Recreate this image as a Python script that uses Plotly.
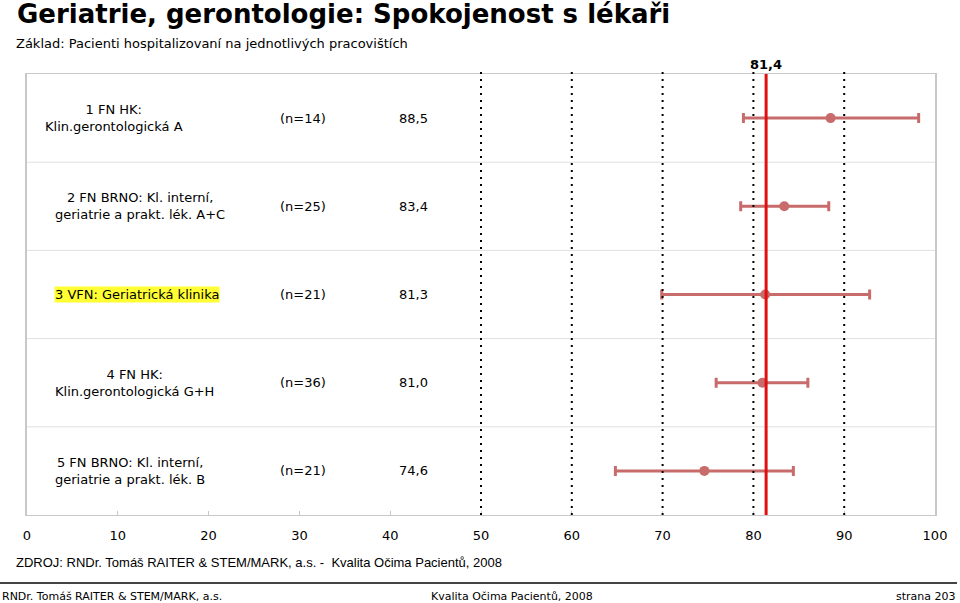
import plotly.graph_objects as go

# ---- data ----
row_labels = [
    "1 FN HK:<br>Klin.gerontologická A",
    "2 FN BRNO: Kl. interní,<br>geriatrie a prakt. lék. A+C",
    "3 VFN: Geriatrická klinika",
    "4 FN HK:<br>Klin.gerontologická G+H",
    "5 FN BRNO: Kl. interní,<br>geriatrie a prakt. lék. B",
]
n_counts = [14, 25, 21, 36, 21]
means = [88.5, 83.4, 81.3, 81.0, 74.6]
ci_low = [78.9, 78.6, 69.9, 75.9, 64.8]
ci_high = [98.2, 88.3, 92.8, 86.0, 84.4]
overall_mean = 81.4
x_ticks = [0, 10, 20, 30, 40, 50, 60, 70, 80, 90, 100]
ref_lines = [50, 60, 70, 80, 90]
highlight_row = 2

# ---- layout geometry ----
W, H = 960, 603
L, R, T, B = 27, 935, 74, 515


def px(xp):
    return (xp - L) / (R - L)


def py(yp):
    return (B - yp) / (B - T)


def fmt(v):
    return f"{v:.1f}".replace(".", ",")


rows = list(range(len(means)))
err_plus = [h - m for h, m in zip(ci_high, means)]
err_minus = [m - l for m, l in zip(means, ci_low)]

fig = go.Figure()
fig.add_trace(go.Scatter(
    x=means, y=rows, mode="markers",
    marker=dict(color="#C86B6B", size=10),
    error_x=dict(type="data", symmetric=False, array=err_plus, arrayminus=err_minus,
                 color="#C86B6B", thickness=3, width=5),
    hoverinfo="skip", showlegend=False,
))

shapes = []
# row separators
for i in rows[:-1]:
    shapes.append(dict(type="line", xref="paper", yref="y", x0=0, x1=1, y0=i + 0.5, y1=i + 0.5,
                       line=dict(color="#E0E0E0", width=1), layer="below"))
# dotted reference lines
for v in ref_lines:
    shapes.append(dict(type="line", xref="x", yref="paper", x0=v, x1=v, y0=0, y1=py(72),
                       line=dict(color="black", width=2, dash="2px,5px"), layer="above"))
# overall mean line
shapes.append(dict(type="line", xref="x", yref="paper", x0=overall_mean, x1=overall_mean,
                   y0=0, y1=1, line=dict(color="#E01010", width=3), layer="above"))
# footer rule
shapes.append(dict(type="line", xref="paper", yref="paper", x0=px(0), x1=px(957),
                   y0=py(583), y1=py(583), line=dict(color="#444444", width=2)))

label_font = dict(family="DejaVu Sans, Verdana", size=13, color="black")
label_x = [114, 140, 137, 134, 130]

ann = []
for i in rows:
    a = dict(xref="paper", yref="y", x=px(label_x[i]), y=i, text=row_labels[i],
             showarrow=False, align="center", xanchor="center", yanchor="middle",
             font=label_font)
    if i == highlight_row:
        a.update(bgcolor="#FFFF33", borderpad=0)
    ann.append(a)
    ann.append(dict(xref="paper", yref="y", x=px(303), y=i, text=f"(n={n_counts[i]})",
                    showarrow=False, xanchor="center", yanchor="middle", font=label_font))
    ann.append(dict(xref="paper", yref="y", x=px(413), y=i, text=fmt(means[i]),
                    showarrow=False, xanchor="center", yanchor="middle", font=label_font))

ann.append(dict(xref="x", yref="paper", x=overall_mean, y=py(65), text=f"<b>{fmt(overall_mean)}</b>",
                showarrow=False, xanchor="center", yanchor="middle",
                font=dict(family="DejaVu Sans, Verdana", size=13, color="black")))
ann.append(dict(xref="paper", yref="paper", x=px(15), y=py(14),
                text="<b>Geriatrie, gerontologie: Spokojenost s lékaři</b>",
                showarrow=False, xanchor="left", yanchor="middle",
                font=dict(family="DejaVu Sans, Verdana", size=26, color="black")))
ann.append(dict(xref="paper", yref="paper", x=px(14), y=py(44),
                text="Základ: Pacienti hospitalizovaní na jednotlivých pracovištích",
                showarrow=False, xanchor="left", yanchor="middle",
                font=dict(family="DejaVu Sans, Verdana", size=13, color="black")))
ann.append(dict(xref="paper", yref="paper", x=px(14), y=py(562),
                text="ZDROJ: RNDr. Tomáš RAITER & STEM/MARK, a.s. -  Kvalita Očima Pacientů, 2008",
                showarrow=False, xanchor="left", yanchor="middle",
                font=dict(family="Liberation Sans, Arial", size=13, color="black")))
foot_font = dict(family="DejaVu Sans, Verdana", size=11, color="black")
ann.append(dict(xref="paper", yref="paper", x=px(0), y=py(596),
                text="RNDr. Tomáš RAITER & STEM/MARK, a.s.", showarrow=False,
                xanchor="left", yanchor="middle", font=foot_font))
ann.append(dict(xref="paper", yref="paper", x=px(512), y=py(596),
                text="Kvalita Očima Pacientů, 2008", showarrow=False,
                xanchor="center", yanchor="middle", font=foot_font))
ann.append(dict(xref="paper", yref="paper", x=px(958), y=py(596),
                text="strana 203", showarrow=False,
                xanchor="right", yanchor="middle", font=foot_font))

fig.update_layout(
    width=W, height=H,
    margin=dict(l=L, r=W - R, t=T, b=H - B, pad=0),
    paper_bgcolor="white", plot_bgcolor="white",
    shapes=shapes, annotations=ann,
    xaxis=dict(range=[0, 100], tickvals=x_ticks, ticktext=[str(t) for t in x_ticks],
               showgrid=False, zeroline=False, showline=True, linecolor="#C8C8C8",
               linewidth=1, mirror=True, ticks="inside", ticklen=4, tickcolor="#C8C8C8",
               ticklabelstandoff=8,
               tickfont=dict(family="DejaVu Sans, Verdana", size=13, color="black")),
    yaxis=dict(range=[len(means) - 0.5, -0.5], showticklabels=False, showgrid=False,
               zeroline=False, showline=True, linecolor="#C8C8C8", linewidth=2, mirror=True,
               ticks=""),
)

fig.write_html("out.html")
